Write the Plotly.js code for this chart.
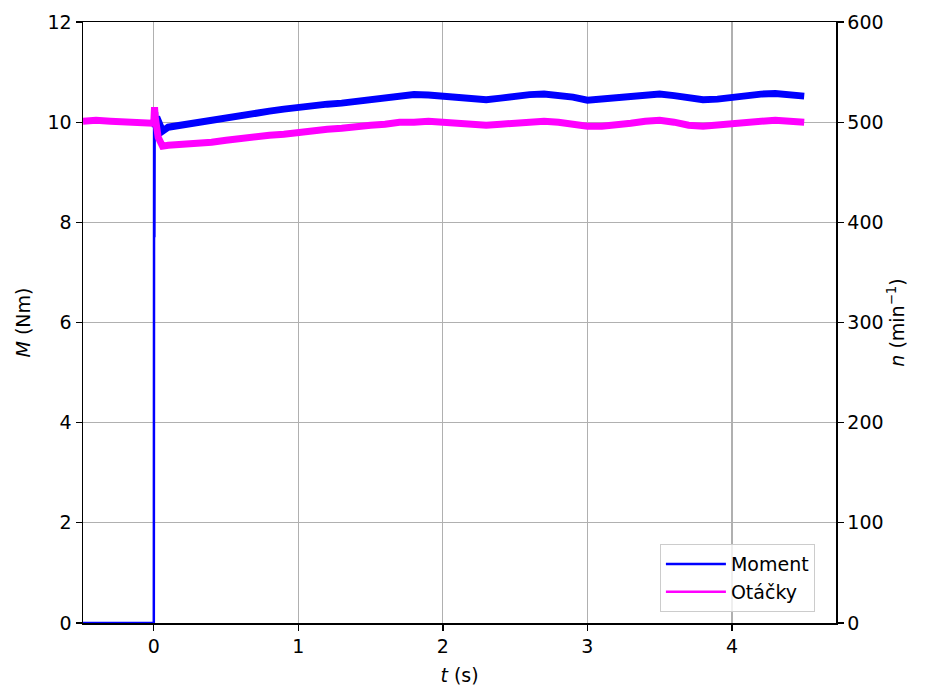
<!DOCTYPE html>
<html>
<head>
<meta charset="utf-8">
<script src="https://cdn.plot.ly/plotly-3.0.1.min.js"></script>
<style>html,body{margin:0;padding:0;background:#fff;}#chart{width:925px;height:688px;}</style>
</head>
<body>
<div id="chart"></div>
<script>
// Moment (Nm) vs time (s)
const momentTime = [-0.49, -0.4, -0.3, -0.2, -0.1, -0.001, 0, 0.002, 0.004, 0.006, 0.01, 0.02, 0.04, 0.06, 0.1, 0.2, 0.3, 0.4, 0.5, 0.6, 0.7, 0.8, 0.9, 1.0, 1.1, 1.2, 1.3, 1.4, 1.5, 1.6, 1.7, 1.8, 1.9, 2.0, 2.1, 2.2, 2.3, 2.4, 2.5, 2.6, 2.7, 2.8, 2.9, 3.0, 3.1, 3.2, 3.3, 3.4, 3.5, 3.6, 3.7, 3.8, 3.9, 4.0, 4.1, 4.2, 4.3, 4.4, 4.5];
const momentValues = [0, 0, 0, 0, 0, 0, 0, 10.3, 7.7, 10.2, 9.9, 10.1, 9.95, 9.82, 9.9, 9.95, 10.0, 10.05, 10.08, 10.12, 10.18, 10.22, 10.26, 10.3, 10.32, 10.36, 10.38, 10.42, 10.46, 10.5, 10.53, 10.55, 10.54, 10.52, 10.5, 10.46, 10.45, 10.48, 10.52, 10.55, 10.56, 10.54, 10.5, 10.44, 10.46, 10.5, 10.52, 10.54, 10.56, 10.53, 10.48, 10.45, 10.46, 10.5, 10.53, 10.56, 10.57, 10.55, 10.52];
// Speed (min^-1) vs time (s)
const speedTime = [-0.49, -0.4, -0.3, -0.2, -0.1, -0.01, 0, 0.005, 0.01, 0.03, 0.06, 0.1, 0.2, 0.3, 0.4, 0.5, 0.6, 0.7, 0.8, 0.9, 1.0, 1.1, 1.2, 1.3, 1.4, 1.5, 1.6, 1.7, 1.8, 1.9, 2.0, 2.1, 2.2, 2.3, 2.4, 2.5, 2.6, 2.7, 2.8, 2.9, 3.0, 3.1, 3.2, 3.3, 3.4, 3.5, 3.6, 3.7, 3.8, 3.9, 4.0, 4.1, 4.2, 4.3, 4.4, 4.5];
const speedValues = [501, 502, 501, 500, 499, 499, 500, 515, 505, 485, 476, 477, 478, 478, 480, 482, 484, 486, 487, 488, 490, 491, 493, 494, 496, 497, 498, 500, 500, 501, 500, 499, 498, 497, 498, 499, 500, 501, 500, 498, 496, 496, 497, 499, 501, 502, 500, 497, 496, 497, 499, 500, 501, 502, 501, 500];
const seriesNames = ['Moment', 'Otáčky'];
const xTicks = [0, 1, 2, 3, 4];
const yTicks = [0, 2, 4, 6, 8, 10, 12];
const y2Ticks = [0, 100, 200, 300, 400, 500, 600];

const FONT = 'DejaVu Sans, sans-serif';
const font = {family: FONT, size: 19, color: '#000'};

// the step (a single-sample jump) is drawn thin; the noisy steady part as a wide band
const stepEnd = momentTime.indexOf(0.006) + 1;

const traces = [
  {x: momentTime.slice(0, stepEnd), y: momentValues.slice(0, stepEnd), type: 'scatter', mode: 'lines',
   name: seriesNames[0], showlegend: false, line: {color: '#0000ff', width: 2.5}, yaxis: 'y'},
  {x: momentTime.slice(stepEnd - 1), y: momentValues.slice(stepEnd - 1), type: 'scatter', mode: 'lines',
   name: seriesNames[0], showlegend: false, line: {color: '#0000ff', width: 7}, yaxis: 'y'},
  {x: speedTime, y: speedValues, type: 'scatter', mode: 'lines', name: seriesNames[1], showlegend: false,
   line: {color: '#ff00ff', width: 7}, yaxis: 'y2'},
  // legend entries (thin lines as in the reference legend)
  {x: [null], y: [null], type: 'scatter', mode: 'lines', name: seriesNames[0],
   line: {color: '#0000ff', width: 2.5}, yaxis: 'y'},
  {x: [null], y: [null], type: 'scatter', mode: 'lines', name: seriesNames[1],
   line: {color: '#ff00ff', width: 2.5}, yaxis: 'y'}
];

const axisCommon = {ticks: 'outside', ticklen: 6, tickwidth: 1.3, tickcolor: '#000',
  showline: true, linecolor: '#000', linewidth: 1.5, zeroline: false,
  tickfont: {family: FONT, size: 19}};

const layout = {
  width: 925, height: 688,
  margin: {l: 83, r: 89, t: 22, b: 65},
  paper_bgcolor: '#fff', plot_bgcolor: '#fff',
  font: font,
  showlegend: true,
  legend: {x: 0.972, xanchor: 'right', y: 0.018, yanchor: 'bottom',
           bgcolor: 'rgba(255,255,255,0.8)', bordercolor: '#cccccc', borderwidth: 1,
           itemwidth: 60, tracegroupgap: 0,
           font: {family: FONT, size: 19}},
  xaxis: Object.assign({}, axisCommon, {range: [-0.49, 4.72], tickvals: xTicks, mirror: true,
          showgrid: true, gridcolor: '#b0b0b0', gridwidth: 1.2,
          title: {text: '<i>t</i> (s)', font: {family: FONT, size: 19}, standoff: 12}}),
  yaxis: Object.assign({}, axisCommon, {range: [0, 12], tickvals: yTicks,
          showgrid: true, gridcolor: '#b0b0b0', gridwidth: 1.2,
          title: {text: '<i>M</i> (Nm)', font: {family: FONT, size: 19}, standoff: 12}}),
  yaxis2: Object.assign({}, axisCommon, {range: [0, 600], tickvals: y2Ticks, overlaying: 'y', side: 'right',
           showgrid: false,
           title: {text: '<i>n</i> (min<sup>−1</sup>)', font: {family: FONT, size: 19}, standoff: 8}})
};

Plotly.newPlot('chart', traces, layout, {displayModeBar: false, staticPlot: true});
</script>
</body>
</html>
